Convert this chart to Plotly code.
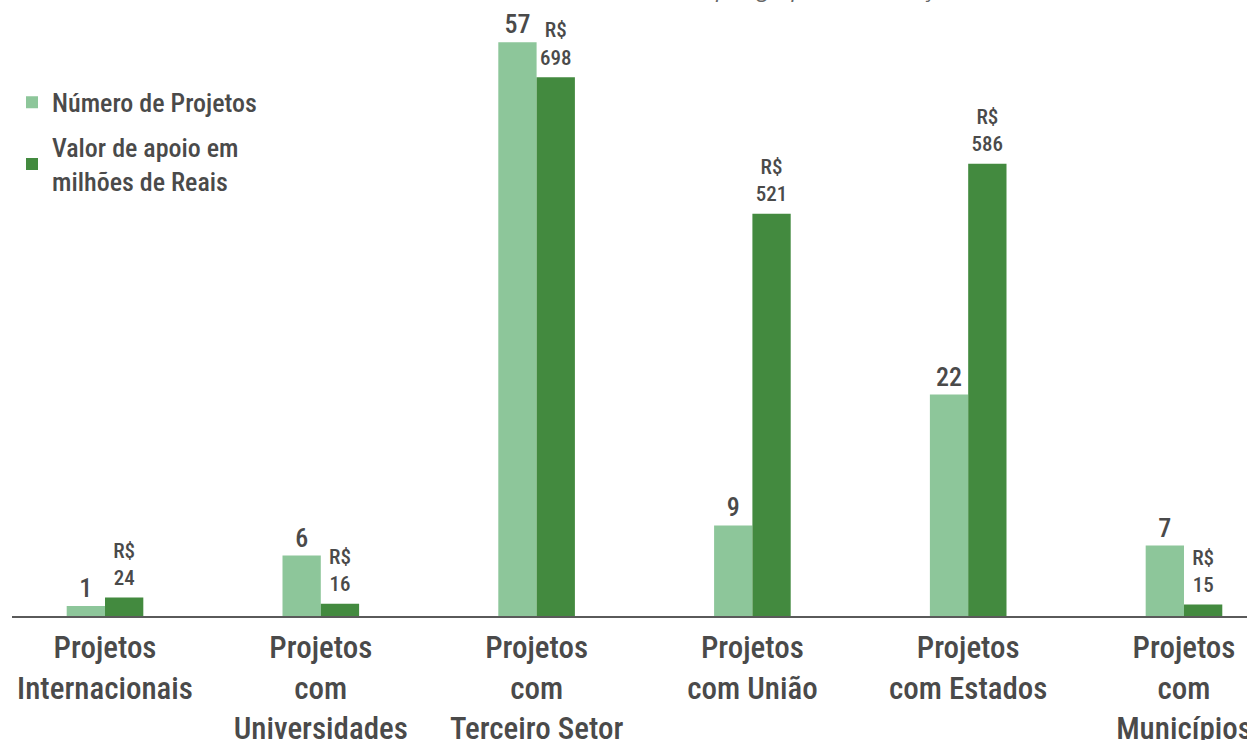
import plotly.graph_objects as go

categories = [
    "Projetos<br>Internacionais",
    "Projetos<br>com<br>Universidades",
    "Projetos<br>com<br>Terceiro Setor",
    "Projetos<br>com União",
    "Projetos<br>com Estados",
    "Projetos<br>com<br>Municípios",
]
num_projetos = [1, 6, 57, 9, 22, 7]
valor_apoio = [24, 16, 698, 521, 586, 15]

series_names = ["Número de Projetos", "Valor de apoio em<br>milhões de Reais"]
title_text = "Valor e número de acordos por grupo de instituição"

LIGHT = "#8DC69A"
DARK = "#438A3F"
TXT = "#4a4a4a"
FONT = "Liberation Sans Narrow, Roboto Condensed, Arial Narrow, sans-serif"
WEIGHT = 500

BW = 0.1775
xpos = list(range(len(categories)))

fig = go.Figure()
fig.add_trace(go.Bar(
    x=xpos, y=num_projetos, name=series_names[0],
    marker=dict(color=LIGHT, line=dict(width=0)),
    width=BW, offset=-BW,
    text=[str(v) for v in num_projetos], textposition="outside",
    textfont=dict(family=FONT, size=26, color=TXT, weight=WEIGHT),
    cliponaxis=False, legendgroup="a", yaxis="y", hoverinfo="skip",
))
fig.add_trace(go.Bar(
    x=xpos, y=valor_apoio, name=series_names[1],
    marker=dict(color=DARK, line=dict(width=0)),
    width=BW, offset=0,
    cliponaxis=False, legendgroup="b", yaxis="y2", hoverinfo="skip",
))
fig.add_trace(go.Scatter(
    x=[p + BW / 2 for p in xpos], y=valor_apoio, mode="markers+text",
    marker=dict(size=10, opacity=0),
    text=["R$<br>" + str(v) for v in valor_apoio], textposition="top center",
    textfont=dict(family=FONT, size=21, color=TXT, weight=WEIGHT),
    cliponaxis=False, showlegend=False, yaxis="y2", hoverinfo="skip",
))

fig.update_layout(
    width=1247, height=740,
    margin=dict(l=12, r=0, t=0, b=124),
    paper_bgcolor="white", plot_bgcolor="white",
    font=dict(family=FONT, color=TXT),
    xaxis=dict(
        range=[-0.431, 5.292],
        tickmode="array", tickvals=xpos, ticktext=categories,
        showline=True, linecolor="#5a5a5a", linewidth=2,
        ticks="", showgrid=False, zeroline=False,
        tickfont=dict(family=FONT, size=31, color=TXT, weight=WEIGHT),
        ticklabelstandoff=3, automargin=False, ticklabeloverflow="allow",
    ),
    yaxis=dict(range=[0, 61.2], visible=False, showgrid=False, zeroline=False),
    yaxis2=dict(range=[0, 798], visible=False, overlaying="y", showgrid=False, zeroline=False),
    showlegend=True,
    legend=dict(
        x=0, y=0.872, xanchor="left", yanchor="top",
        font=dict(family=FONT, size=26, color=TXT, weight=WEIGHT),
        bgcolor="rgba(0,0,0,0)", tracegroupgap=8, traceorder="grouped",
    ),
    annotations=[dict(
        text="<i>" + title_text + "</i>", xref="paper", yref="paper",
        x=(962 - 12) / 1235, y=1, xanchor="right", yanchor="bottom", yshift=-5,
        showarrow=False, font=dict(family="Open Sans", size=23, color="#666666"),
    )],
)

fig.write_html(
    "out.html",
    config={"displayModeBar": False},
    post_script="document.body.style.margin='0';document.body.style.padding='0';document.body.style.overflow='hidden';",
)
